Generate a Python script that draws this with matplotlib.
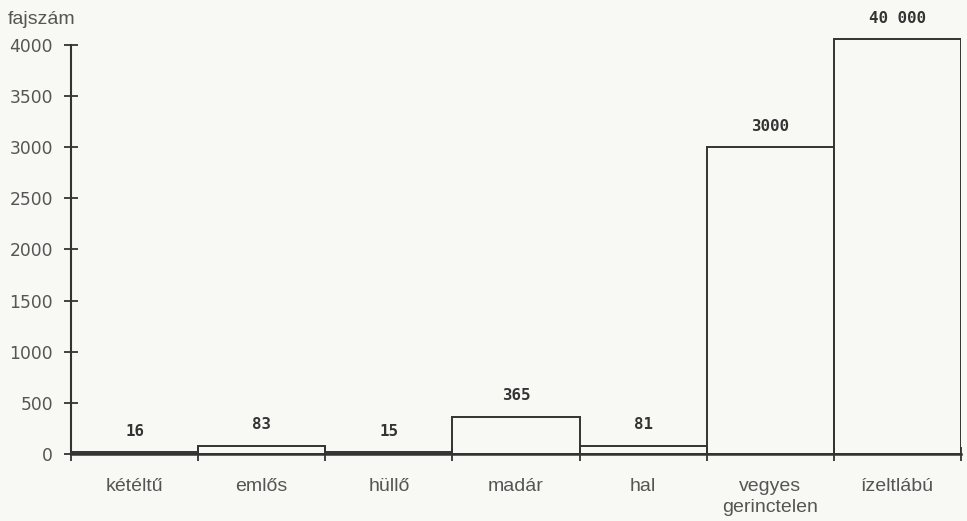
import numpy as np
import matplotlib.pyplot as plt

categories = ["kétéltű", "emlős", "hüllő", "madár", "hal", "vegyes\ngerinctelen", "ízeltlábú"]
species = [16, 83, 15, 365, 81, 3000, 40000]
value_labels = ["16", "83", "15", "365", "81", "3000", "40 000"]
y_ticks = [0, 500, 1000, 1500, 2000, 2500, 3000, 3500, 4000]

# the scale stops just above 4000, taller bars are cut off there
cap = 4060

bg = "#f8f8f4"
ink = "#333333"
txt = "#555555"

plt.rcParams['font.family'] = ['Liberation Sans', 'DejaVu Sans']

fig = plt.figure(figsize=(9.67, 5.21), dpi=100, facecolor=bg)
ax = fig.add_axes([71 / 967, 67 / 521, 890 / 967, 439.7 / 521])
ax.set_facecolor(bg)

x = np.arange(len(categories))
heights = np.minimum(species, cap)
bars = ax.bar(x, heights, width=1.0, facecolor=bg, edgecolor=ink, linewidth=1.4)

for xi, h, lab in zip(x, heights, value_labels):
    ax.annotate(lab, (xi, h), xytext=(0, 15), textcoords="offset points",
                ha="center", va="center", fontsize=11.3, fontweight="bold",
                family="DejaVu Sans Mono", color=ink)

ax.set_xlim(-0.5, len(categories) - 0.5)
ax.set_ylim(0, 4300)

ax.spines["top"].set_visible(False)
ax.spines["right"].set_visible(False)
ax.spines["left"].set_bounds(0, 4000)
ax.spines["left"].set_color(ink)
ax.spines["bottom"].set_color(ink)
ax.spines["left"].set_linewidth(1.5)
ax.spines["bottom"].set_linewidth(1.8)

ax.set_yticks(y_ticks)
ax.set_yticklabels([str(v) for v in y_ticks], family="DejaVu Sans")
ax.tick_params(axis="y", direction="inout", length=10, width=1.3, color=ink,
               labelsize=12.3, labelcolor=txt, pad=8)

# category names under the bars, tick marks at the bar edges
ax.set_xticks(x)
ax.set_xticklabels(categories)
ax.tick_params(axis="x", which="major", length=0, labelsize=14, labelcolor=txt, pad=17)
ax.set_xticks(np.arange(len(categories) + 1) - 0.5, minor=True)
ax.tick_params(axis="x", which="minor", direction="inout", length=10, width=1.3, color=ink)
for t in ax.get_xticklabels():
    t.set_verticalalignment("top")
    t.set_linespacing(1.35)

fig.text(8 / 967, 1 - 19 / 521, "fajszám", fontsize=14, color=txt, va="center", ha="left")

fig.savefig("out.png", dpi=100, facecolor=bg)
